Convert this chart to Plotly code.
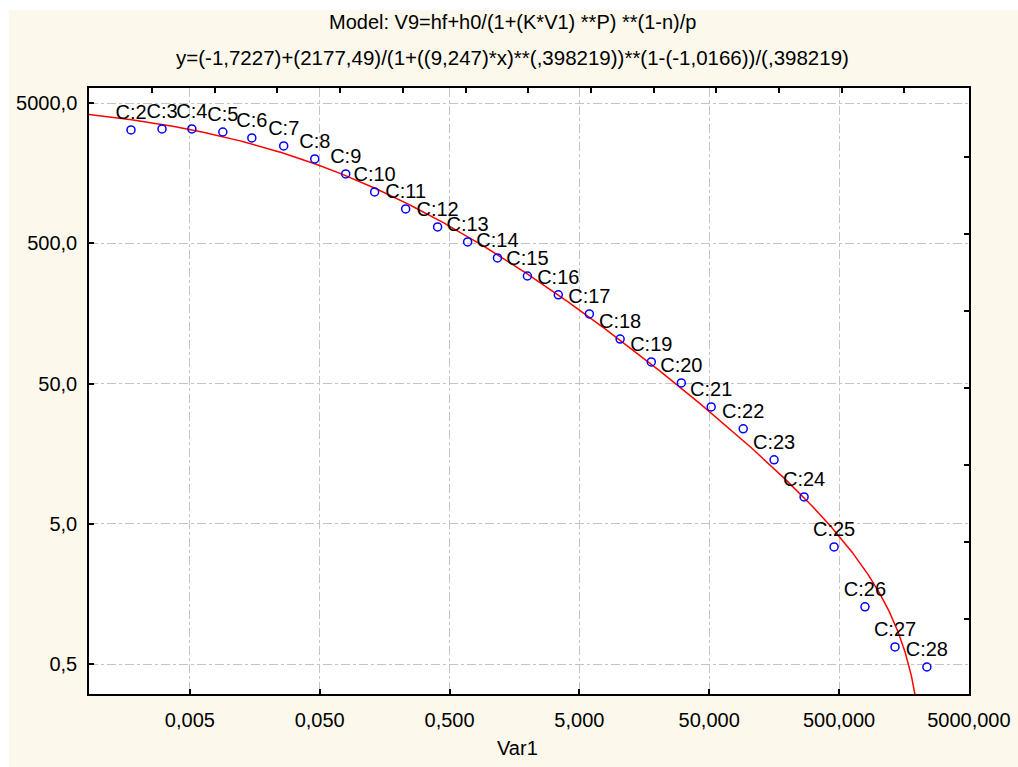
import numpy as np
import plotly.graph_objects as go

# ---- data ----
case_labels = ["C:2", "C:3", "C:4", "C:5", "C:6", "C:7", "C:8", "C:9", "C:10",
               "C:11", "C:12", "C:13", "C:14", "C:15", "C:16", "C:17", "C:18",
               "C:19", "C:20", "C:21", "C:22", "C:23", "C:24", "C:25", "C:26",
               "C:27", "C:28"]
var1 = [0.00176, 0.00305, 0.00518, 0.00897, 0.0150, 0.0264, 0.0458, 0.0793,
        0.1324, 0.2296, 0.4046, 0.689, 1.17, 1.99, 3.44, 5.97, 10.3, 17.9,
        30.5, 51.8, 91.4, 158, 269, 458, 792, 1349, 2375]
v9 = [3226, 3280, 3280, 3120, 2830, 2480, 2005, 1566, 1165, 881, 656, 513,
      394, 293, 215, 157, 104, 71.4, 50.6, 34.1, 23.8, 14.3, 7.78, 3.42,
      1.28, 0.662, 0.476]

# fitted model parameters (from the chart title)
hf = -1.7227
h0 = 2177.49
K = 9.247
P = 0.398219
n = -1.0166

x_tick_vals = [0.005, 0.05, 0.5, 5, 50, 500, 5000]
x_tick_text = ["0,005", "0,050", "0,500", "5,000", "50,000", "500,000", "5000,000"]
y_tick_vals = [0.5, 5, 50, 500, 5000]
y_tick_text = ["0,5", "5,0", "50,0", "500,0", "5000,0"]

# secondary (unlabelled) tick marks on top and right frame, as log10 positions
top_tick_logs = [-2.593 + 0.483 * k for k in range(13)]
right_tick_logs = [3.316 - 0.549 * k for k in range(7)]

x_range = [-3.078, 3.70]
y_range = [-0.515, 3.808]

# ---- fitted curve ----
xc = np.logspace(x_range[0], 3.5, 1500)
yc = hf + h0 / (1 + (K * xc) ** P) ** (1 - n) / P
mask = yc > 0
xc, yc = xc[mask], yc[mask]

FONT = "Liberation Sans, Arial, sans-serif"
cream = "#fdf8ec"

fig = go.Figure()
fig.add_trace(go.Scatter(x=xc, y=yc, mode="lines",
                         line=dict(color="#ff0000", width=1.5),
                         hoverinfo="skip", showlegend=False))
fig.add_trace(go.Scatter(x=var1, y=v9, mode="markers+text", text=case_labels,
                         textposition="top center",
                         textfont=dict(family=FONT, size=20, color="black"),
                         marker=dict(symbol="circle-open", size=8,
                                     color="#0000ff", line=dict(width=1.5, color="#0000ff")),
                         showlegend=False))
# invisible anchor trace for the secondary axes
fig.add_trace(go.Scatter(x=[var1[0]], y=[v9[0]], xaxis="x2", yaxis="y2",
                         mode="markers", marker=dict(opacity=0),
                         hoverinfo="skip", showlegend=False))

axis_common = dict(type="log", showline=True, linecolor="black", linewidth=1.5,
                   ticks="inside", ticklen=5, tickwidth=1.5, tickcolor="black",
                   zeroline=False, automargin=False,
                   tickfont=dict(family=FONT, size=20, color="black"))

fig.update_layout(
    width=1018, height=767,
    margin=dict(l=89, r=49, t=88, b=73, pad=0, autoexpand=False),
    paper_bgcolor=cream, plot_bgcolor="white",
    xaxis=dict(**axis_common, range=x_range, mirror=True,
               tickvals=x_tick_vals, ticktext=x_tick_text,
               showgrid=True, gridcolor="#c4c4c4", griddash="dashdot", gridwidth=1,
               ticklabelstandoff=7),
    yaxis=dict(**axis_common, range=y_range, mirror=True,
               tickvals=y_tick_vals, ticktext=y_tick_text,
               showgrid=True, gridcolor="#c4c4c4", griddash="dashdot", gridwidth=1,
               ticklabelstandoff=6),
    xaxis2=dict(type="log", overlaying="x", side="top", range=x_range,
                tickvals=[10 ** v for v in top_tick_logs], showticklabels=False,
                ticks="inside", ticklen=5, tickwidth=1.5, tickcolor="black",
                showgrid=False, showline=False, zeroline=False, anchor="y",
                automargin=False),
    yaxis2=dict(type="log", overlaying="y", side="right", range=y_range,
                tickvals=[10 ** v for v in right_tick_logs], showticklabels=False,
                ticks="inside", ticklen=5, tickwidth=1.5, tickcolor="black",
                showgrid=False, showline=False, zeroline=False, anchor="x",
                automargin=False),
    shapes=[
        dict(type="rect", xref="paper", yref="paper",
             x0=-89 / 880, x1=(9 - 89) / 880, y0=-73 / 606, y1=694 / 606,
             fillcolor="white", line=dict(width=0), layer="below"),
        dict(type="rect", xref="paper", yref="paper",
             x0=-89 / 880, x1=(1018 - 89) / 880, y0=(694 - 10) / 606, y1=694 / 606,
             fillcolor="white", line=dict(width=0), layer="below"),
    ],
    annotations=[
        dict(text="Model: V9=hf+h0/(1+(K*V1) **P) **(1-n)/p", xref="paper", yref="paper",
             x=(512 - 89) / 880, y=(694 - 22) / 606, xanchor="center", yanchor="middle",
             showarrow=False, font=dict(family=FONT, size=20, color="black")),
        dict(text="y=(-1,7227)+(2177,49)/(1+((9,247)*x)**(,398219))**(1-(-1,0166))/(,398219)",
             xref="paper", yref="paper",
             x=(512 - 89) / 880, y=(694 - 58) / 606, xanchor="center", yanchor="middle",
             showarrow=False, font=dict(family=FONT, size=20.5, color="black")),
        dict(text="Var1", xref="paper", yref="paper",
             x=(517 - 89) / 880, y=(694 - 748) / 606, xanchor="center", yanchor="middle",
             showarrow=False, font=dict(family=FONT, size=20, color="black")),
    ],
)

fig.write_html("out.html")
